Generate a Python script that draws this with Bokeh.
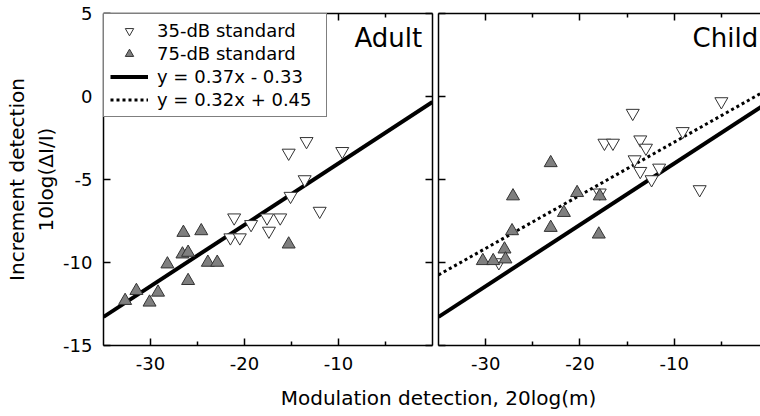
from bokeh.plotting import figure
from bokeh.models import (FixedTicker, LinearAxis, Range1d, Legend, LegendItem,
                          Label, CustomLabelingPolicy)
from bokeh.layouts import column, row
from bokeh.embed import file_html
from bokeh.resources import INLINE

# ---------------- data ----------------
adult_35_x = [-13.4, -15.3, -9.6, -13.6, -15.1, -12.0, -21.1, -17.6, -16.2, -19.3, -17.4, -21.5, -20.5]
adult_35_y = [-2.7, -3.4, -3.3, -5.0, -6.0, -6.9, -7.3, -7.3, -7.3, -7.7, -8.1, -8.5, -8.5]
adult_75_x = [-26.5, -24.6, -26.6, -26.0, -15.3, -28.2, -23.9, -22.9, -26.0, -31.5, -29.2, -32.7, -30.1]
adult_75_y = [-8.2, -8.1, -9.5, -9.4, -8.9, -10.1, -10.0, -10.0, -11.1, -11.7, -11.8, -12.3, -12.4]

child_35_x = [-5.0, -14.4, -9.1, -17.4, -16.5, -13.6, -13.0, -14.2, -13.6, -11.6, -12.4, -7.3, -17.9, -28.6]
child_35_y = [-0.3, -1.0, -2.1, -2.8, -2.8, -2.6, -3.1, -3.8, -4.5, -4.3, -5.0, -5.6, -5.8, -10.0]
child_75_x = [-23.1, -27.1, -20.3, -17.9, -21.7, -23.1, -27.2, -18.0, -28.0, -27.9, -30.3, -29.2]
child_75_y = [-4.0, -6.0, -5.8, -6.0, -7.0, -7.9, -8.1, -8.3, -9.2, -9.8, -9.9, -9.9]

fit_slopes = [0.37, 0.32]
fit_intercepts = [-0.33, 0.45]
fit_labels = ["y = 0.37x - 0.33", "y = 0.32x + 0.45"]
fit_x = [-35, 0]

series_labels = ["35-dB standard", "75-dB standard"]
panel_labels = ["Adult", "Child"]
x_major = [-30, -20, -10]
x_minor = [-25, -15, -5]
y_major = [5, 0, -5, -10, -15]
y_title = "Increment detection\n10log(ΔI/I)"
x_title = "Modulation detection, 20log(m)"

FONT = "DejaVu Sans"
H = 380


def fit_y(k):
    return [fit_slopes[k] * x + fit_intercepts[k] for x in fit_x]


def hyphen_labels(ticks):
    return {t: str(t) for t in ticks}


def style_axis(ax, ticks, labels, standoff=10):
    ax.axis_line_width = 1.5
    ax.axis_line_color = "black"
    ax.major_tick_in = 7
    ax.major_tick_out = 0
    ax.minor_tick_in = 4
    ax.minor_tick_out = 0
    ax.major_tick_line_width = 1.5
    ax.minor_tick_line_width = 1.5
    ax.axis_label = None
    if labels:
        ax.major_label_text_font = FONT
        ax.major_label_text_font_size = "18px"
        ax.major_label_text_color = "black"
        ax.major_label_standoff = standoff
        ax.major_label_overrides = hyphen_labels(ticks)
    else:
        ax.major_label_text_font_size = "0px"
        ax.major_label_standoff = 0
        ax.major_label_policy = CustomLabelingPolicy(
            code="for (const i of indices) indices.unset(i)")


def make_panel(width, x_end, min_left, min_right, left_labels, right_axis):
    p = figure(width=width, height=H, x_range=Range1d(-35, x_end), y_range=Range1d(-15, 5),
               output_backend="svg", toolbar_location=None,
               x_axis_location=None, y_axis_location=None,
               min_border_left=min_left, min_border_right=min_right,
               min_border_top=13, min_border_bottom=35)
    p.outline_line_color = None
    p.grid.visible = False
    xt = FixedTicker(ticks=x_major, minor_ticks=x_minor)
    yt = FixedTicker(ticks=y_major, minor_ticks=[])
    below = LinearAxis(ticker=xt)
    style_axis(below, x_major, True, standoff=11)
    p.add_layout(below, "below")
    above = LinearAxis(ticker=xt)
    style_axis(above, x_major, False)
    p.add_layout(above, "above")
    left = LinearAxis(ticker=yt)
    style_axis(left, y_major, left_labels, standoff=11)
    p.add_layout(left, "left")
    if left_labels:
        left.axis_label = y_title
        left.axis_label_text_font = FONT
        left.axis_label_text_font_size = "20px"
        left.axis_label_text_font_style = "normal"
        left.axis_label_text_color = "black"
        left.axis_label_standoff = 2
    if right_axis:
        right = LinearAxis(ticker=yt)
        style_axis(right, y_major, False)
        p.add_layout(right, "right")
    return p


# ---------------- Adult panel ----------------
p1 = make_panel(434, 0, 103, 2, True, True)
l1 = p1.line(fit_x, fit_y(0), line_color="black", line_width=4)
# dotted fit is only drawn in the Child panel; here it is kept muted (invisible)
# so that the legend can show its line style
l1d = p1.line(fit_x, fit_y(1), line_color="black", line_width=3, line_dash="3 3",
              muted_line_alpha=0.0)
l1d.muted = True
o1 = p1.scatter(adult_35_x, adult_35_y, marker="inverted_triangle", size=13,
                fill_color="white", line_color="#333333", line_width=1)
f1 = p1.scatter(adult_75_x, adult_75_y, marker="triangle", size=13,
                fill_color="#7f7f7f", line_color="#333333", line_width=1)

legend = Legend(items=[
    LegendItem(label=series_labels[0], renderers=[o1]),
    LegendItem(label=series_labels[1], renderers=[f1]),
    LegendItem(label=fit_labels[0], renderers=[l1]),
    LegendItem(label=fit_labels[1], renderers=[l1d]),
], location="top_left")
legend.click_policy = "none"
legend.margin = 0
legend.padding = 6
legend.spacing = 2
legend.label_height = 21
legend.glyph_height = 21
legend.glyph_width = 38
legend.label_standoff = 9
legend.label_width = 163
legend.label_text_font = FONT
legend.label_text_font_size = "18px"
legend.label_text_color = "black"
legend.border_line_color = "black"
legend.border_line_width = 1.5
legend.background_fill_color = "white"
legend.background_fill_alpha = 1.0
p1.add_layout(legend)

p1.add_layout(Label(x=-1.1, y=3.5, text=panel_labels[0], text_align="right",
                    text_baseline="middle", text_font=FONT, text_font_size="26px",
                    text_color="black"))

# ---------------- Child panel ----------------
p2 = make_panel(326, -0.85, 4, 0, False, False)
p2.line(fit_x, fit_y(0), line_color="black", line_width=4)
p2.line(fit_x, fit_y(1), line_color="black", line_width=3, line_dash="3 3")
p2.scatter(child_35_x, child_35_y, marker="inverted_triangle", size=13,
           fill_color="white", line_color="#333333", line_width=1)
p2.scatter(child_75_x, child_75_y, marker="triangle", size=13,
           fill_color="#7f7f7f", line_color="#333333", line_width=1)
p2.add_layout(Label(x=-1.1, y=3.5, text=panel_labels[1], text_align="right",
                    text_baseline="middle", text_font=FONT, text_font_size="26px",
                    text_color="black"))

# ---------------- shared x-axis title ----------------
p3 = figure(width=760, height=36, x_range=Range1d(0, 760), y_range=Range1d(0, 36),
            output_backend="svg", toolbar_location=None,
            x_axis_location=None, y_axis_location=None,
            min_border_left=0, min_border_right=0, min_border_top=0, min_border_bottom=0)
p3.outline_line_color = None
p3.grid.visible = False
p3.add_layout(Label(x=438, y=19, text=x_title, text_align="center",
                    text_baseline="alphabetic", text_font=FONT, text_font_size="20px",
                    text_color="black"))

layout = column(row(p1, p2), p3)
open("out.html", "w").write(file_html(layout, INLINE))
